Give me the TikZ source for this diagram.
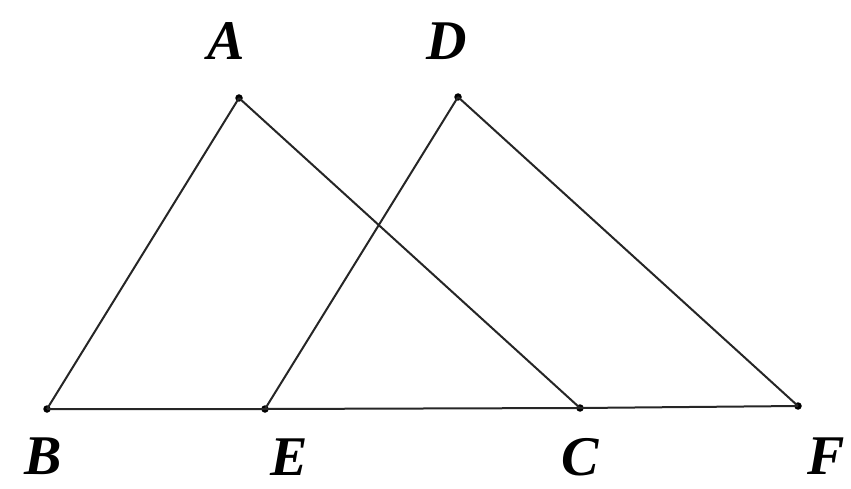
\documentclass[tikz,border=0pt]{standalone}
\usepackage{fontspec}
\setmainfont{Liberation Serif}
\begin{document}
\begin{tikzpicture}[x=1pt,y=1pt,
  seg/.style={line width=2pt,black!85},
  dotpt/.style={circle,fill=black,inner sep=0pt,minimum size=7.5pt},
  lbl/.style={font=\fontsize{56}{60}\selectfont\bfseries\itshape}]
\useasboundingbox (0,0) rectangle (851,488);
\node[dotpt] (A) at (239,390) {};
\node[dotpt] (D) at (458,391) {};
\node[dotpt] (B) at (47,79) {};
\node[dotpt] (E) at (265,79) {};
\node[dotpt] (C) at (580,80) {};
\node[dotpt] (F) at (798,82) {};
\draw[seg] (A.center) -- (B.center);
\draw[seg] (A.center) -- (C.center);
\draw[seg] (D.center) -- (E.center);
\draw[seg] (D.center) -- (F.center);
\draw[seg] (B.center) -- (E.center) -- (C.center) -- (F.center);
\node[lbl] (lA) at (226,447) {A};
\node[lbl] (lD) at (447,447) {D};
\node[lbl] (lB) at (43,32) {B};
\node[lbl] (lE) at (289,31) {E};
\node[lbl] (lC) at (580,31) {C};
\node[lbl] (lF) at (826,32) {F};
\end{tikzpicture}
\end{document}
